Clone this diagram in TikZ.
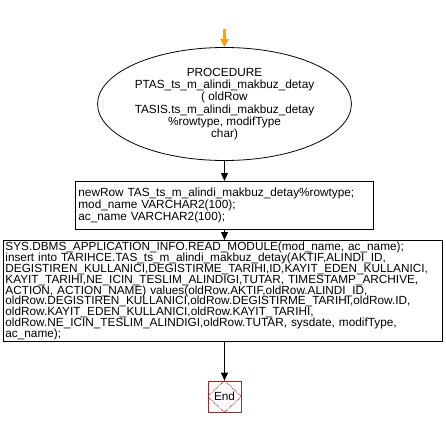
\documentclass[tikz,border=0pt]{standalone}
\usepackage{fontspec}
\setmainfont{Liberation Sans}
\usetikzlibrary{arrows.meta,positioning,shapes.geometric}
\definecolor{fcorange}{HTML}{FFA000}
\definecolor{fcred}{HTML}{A0282A}
\DeclareRobustCommand\tightlines{\fontsize{11.8}{10.8}\selectfont\setlength{\lineskiplimit}{-6pt}}

\begin{document}
\begin{tikzpicture}[
  x=1pt, y=-1pt,
  txt/.style={font=\fontsize{11.8}{12.3}\selectfont, text=black},
  proc/.style={ellipse, draw=black, line width=0.8pt, inner sep=0pt,
    txt, align=center, minimum width=235pt, minimum height=113pt},
  stmt/.style={draw=black, line width=0.8pt, inner sep=3pt,
    txt, align=left, anchor=north west},
  finbox/.style={draw=fcred, line width=0.8pt, inner sep=0pt,
    txt, minimum width=33pt, minimum height=31pt},
  flow/.style={-{Triangle[length=8pt,width=7pt]}, black, line width=1.2pt},
  entry/.style={-{Triangle[length=8pt,width=8pt]}, fcorange, line width=2.5pt},
]
  \useasboundingbox (0,0) rectangle (446,428);

  % Einstieg
  \coordinate (start) at (224.5,29);

  % Prozedurkopf
  \node[proc] (head) at (224.5,104)
    {PROCEDURE\\PTAS\_ts\_m\_alindi\_makbuz\_detay\\( oldRow\\TASIS.ts\_m\_alindi\_makbuz\_detay\\\%rowtype, modifType\\char)};

  % Deklarationen
  \node[stmt, text width=292pt, minimum height=48pt] (decl) at (75,181)
    {newRow TAS\_ts\_m\_alindi\_makbuz\_detay\%rowtype;\\mod\_name VARCHAR2(100);\\ac\_name VARCHAR2(100);};

  % Rumpf
  \node[stmt, text width=435pt, minimum height=100pt, inner sep=2pt,
    font=\tightlines] (body) at (3,240)
    {SYS.DBMS\_APPLICATION\_INFO.READ\_MODULE(mod\_name, ac\_name);\\
     insert into TARIHCE.TAS\_ts\_m\_alindi\_makbuz\_detay(AKTIF,ALINDI\_ID,\\
     DEGISTIREN\_KULLANICI,DEGISTIRME\_TARIHI,ID,KAYIT\_EDEN\_KULLANICI,\\
     KAYIT\_TARIHI,NE\_ICIN\_TESLIM\_ALINDIGI,TUTAR, TIMESTAMP\_ARCHIVE,\\
     ACTION, ACTION\_NAME) values(oldRow.AKTIF,oldRow.ALINDI\_ID,\\
     oldRow.DEGISTIREN\_KULLANICI,oldRow.DEGISTIRME\_TARIHI,oldRow.ID,\\
     oldRow.KAYIT\_EDEN\_KULLANICI,oldRow.KAYIT\_TARIHI,\\
     oldRow.NE\_ICIN\_TESLIM\_ALINDIGI,oldRow.TUTAR, sysdate, modifType,\\
     ac\_name);};

  % Ende
  \node[finbox] (fin) at (224.5,396.5) {End};
  \draw[fcred, densely dotted, line width=0.8pt]
    (fin.north) -- (fin.east) -- (fin.south) -- (fin.west) -- cycle;

  % Kanten
  \draw[entry] (start) -- (head.north);
  \draw[flow] (head.south) -- (decl.north -| head.south);
  \draw[flow] (decl.south -| head.south) -- (body.north -| head.south);
  \draw[flow] (body.south -| head.south) -- (fin.north);

\end{tikzpicture}
\end{document}
